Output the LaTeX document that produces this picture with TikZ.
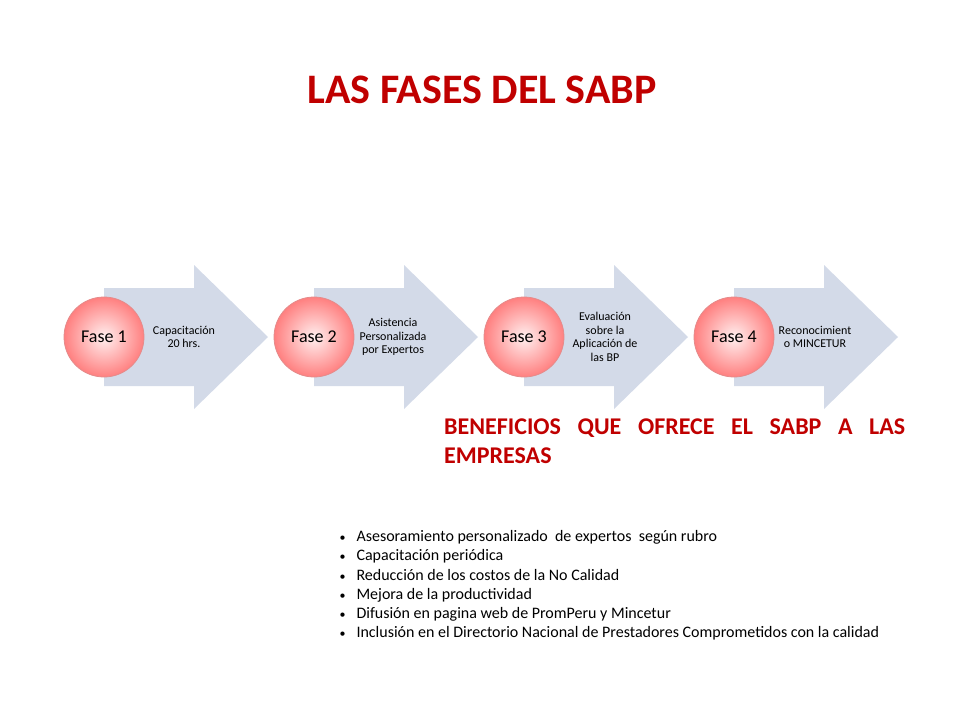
\documentclass[tikz,border=0pt]{standalone}
\usepackage{fontspec}
\setmainfont{Carlito}
\definecolor{tred}{RGB}{192,0,0}
\definecolor{arr}{RGB}{211,218,232}
\definecolor{cedge}{RGB}{228,140,140}
\begin{document}
\begin{tikzpicture}[x=1pt,y=-1pt,
  fase/.style={circle,minimum size=80pt,draw=cedge,line width=0.8pt,inner color=red!6,outer color=red!50,font=\fontsize{18}{20}\selectfont},
  atext/.style={align=center,font=\fontsize{12}{13.5}\selectfont},
  bul/.style={anchor=base west,font=\fontsize{16}{18}\selectfont}]
\useasboundingbox (0,0) rectangle (960,720);
\node[font=\fontsize{42}{46}\selectfont\bfseries,text=tred] (title) at (482,90) {LAS FASES DEL SABP};
\foreach \i/\t/\dx in {1/{Capacitación\\20 hrs.}/184, 2/{Asistencia\\Personalizada\\por Expertos}/393, 3/{Evaluación\\sobre la\\Aplicación de\\las BP}/605, 4/{Reconocimient\\o MINCETUR}/815}{
  \pgfmathsetmacro{\ox}{210*(\i-1)}
  \fill[arr] (104+\ox,288) -- (194+\ox,288) -- (194+\ox,265) -- (268+\ox,337) -- (194+\ox,409) -- (194+\ox,386) -- (104+\ox,386) -- cycle;
  \node[atext] (t\i) at (\dx,337) {\t};
  \node[fase] (f\i) at (104+\ox,337) {Fase \i};
}
\node[anchor=north west,text width=461pt,align=justify,inner sep=0pt,text=tred,font=\fontsize{24}{29}\selectfont\bfseries] (ben) at (444,419) {BENEFICIOS QUE OFRECE EL SABP A LAS \mbox{EMPRESAS}};
\foreach \y/\s [count=\k] in {536/{Asesoramiento personalizado\ \ de expertos\ \ según rubro},555/{Capacitación periódica},575/{Reducción de los costos de la No Calidad},594/{Mejora de la productividad},613/{Difusión en pagina web de PromPeru y Mincetur},632/{Inclusión en el Directorio Nacional de Prestadores Comprometidos con la calidad}}{
  \node[bul] (b\k) at (353,\y+5) {\s};
  \node[bul,font=\fontsize{12}{12}\selectfont] (d\k) at (336,\y+5) {•};
}
\end{tikzpicture}
\end{document}
